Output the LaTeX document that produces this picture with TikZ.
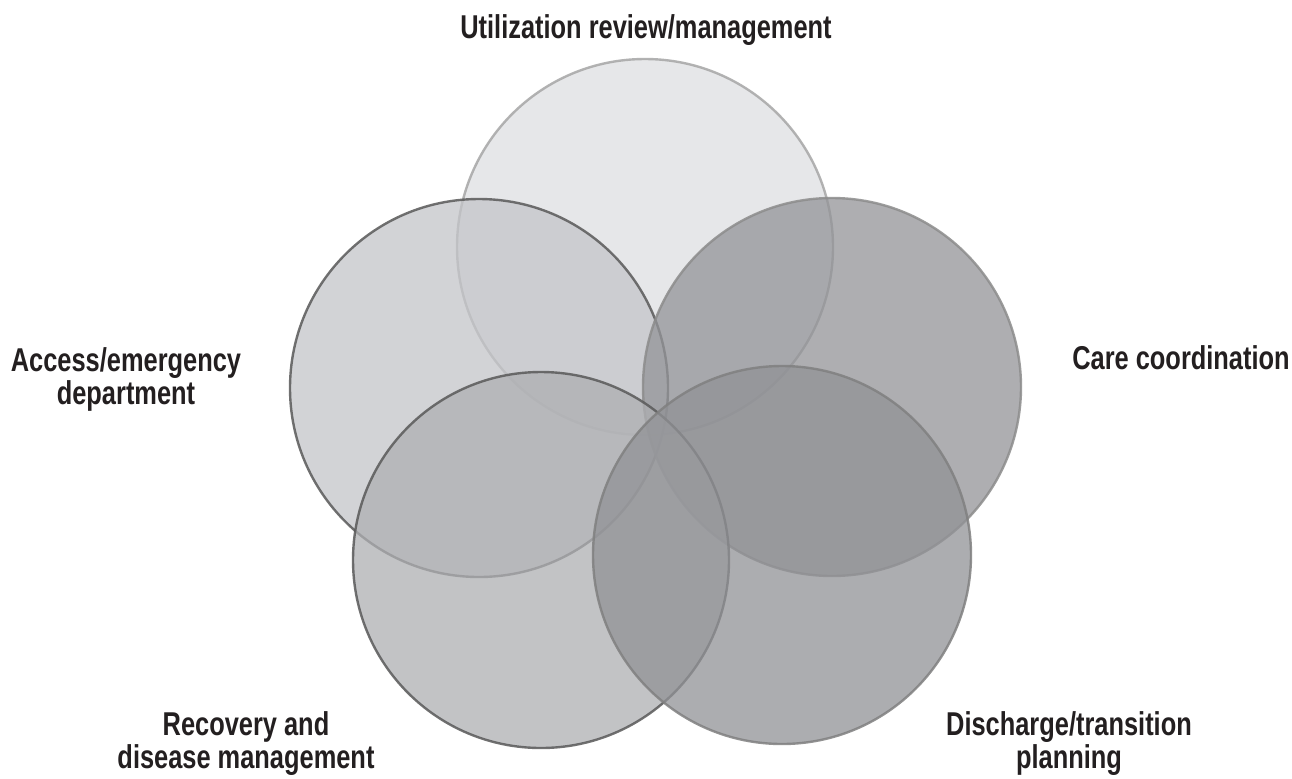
\documentclass[tikz,border=0pt]{standalone}
\usepackage{fontspec}
\setmainfont{Liberation Sans}[FakeStretch=0.77]
\definecolor{txt}{HTML}{231F20}
\begin{document}
\begin{tikzpicture}[x=0.5pt,y=-0.5pt,
  ring/.style={fill opacity=0.75, draw opacity=0.85, line width=1.2pt},
  lbl/.style={font=\bfseries\fontsize{16.5}{16.5}\selectfont, text=txt, align=center, inner sep=0pt}]
\useasboundingbox (0,0) rectangle (1292,778);
\fill[white] (0,0) rectangle (1292,778);
% fill colours of the five circles
\definecolor{cu}{rgb}{0.870,0.873,0.885}
\definecolor{ca}{rgb}{0.768,0.773,0.787}
\definecolor{cc}{rgb}{0.575,0.580,0.595}
\definecolor{cr}{rgb}{0.682,0.687,0.700}
\definecolor{cd}{rgb}{0.568,0.573,0.588}
% the five overlapping circles
\draw[ring, fill=cu, draw=black!35] (645,247) circle (188);
\draw[ring, fill=ca, draw=black!65] (479,388) circle (189);
\draw[ring, fill=cc, draw=black!45] (832,387) circle (189);
\draw[ring, fill=cr, draw=black!65] (541,560) circle (188);
\draw[ring, fill=cd, draw=black!50] (782,555) circle (189);
% labels (anchor at the baseline of the last line)
\node[lbl, anchor=base] (u) at (646,38) {Utilization review/management};
\node[lbl, anchor=base] (c) at (1181,369) {Care coordination};
\node[lbl, anchor=base] (a) at (126,404) {Access/emergency\\department};
\node[lbl, anchor=base] (r) at (246,768) {Recovery and\\disease management};
\node[lbl, anchor=base] (d) at (1069,768) {Discharge/transition\\planning};
\end{tikzpicture}
\end{document}
